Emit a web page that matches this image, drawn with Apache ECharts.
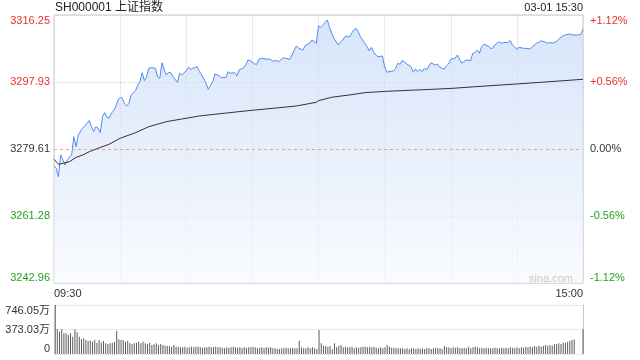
<!DOCTYPE html>
<html><head><meta charset="utf-8">
<script src="https://cdn.jsdelivr.net/npm/echarts@6/dist/echarts.min.js"></script>
<style>html,body{margin:0;padding:0;background:#fff}#c{width:640px;height:360px}</style>
</head><body><div id="c"></div>
<script>
const titleText = 'SH000001 上证指数';
const dateText = '03-01 15:30';
const watermark = 'sina.com';
const timeLabels = ['09:30', '15:00'];
const priceTicks = ['3242.96', '3261.28', '3279.61', '3297.93', '3316.25'];
const pctTicks = ['-1.12%', '-0.56%', '0.00%', '+0.56%', '+1.12%'];
const volTicks = ['0', '373.03万', '746.05万'];
const priceMin = 3242.96, priceMax = 3316.25, prevClose = 3279.61;
const volMax = 746.05;

const priceMinutes = [0,1,2,3,4,5,6,8,9,10,11,13,14,15,16,17,18,19,20,21,22,23,24,25,26,27,28,29,30,31,32,33,34,35,37,38,39,40,41,42,43,44,46,47,48,49,50,51,52,53,54,56,57,58,60,61,62,63,65,66,67,69,70,72,73,75,76,78,79,80,82,83,84,86,87,88,89,91,92,93,94,97,98,99,101,102,104,105,107,108,109,110,111,113,114,116,117,118,119,120,121,122,124,125,126,127,129,130,131,132,133,134,135,136,137,138,139,141,142,143,144,145,146,147,149,150,151,152,154,155,156,157,158,159,160,162,163,164,165,166,167,168,169,171,172,173,174,175,177,178,179,180,182,183,184,185,187,189,190,191,192,193,194,195,197,198,199,200,202,203,204,206,207,208,210,211,213,214,216,217,219,220,221,223,224,225,226,228,229,231,232,234,235,237,238,239,240];
const priceValues = [3274.96,3274.33,3272.04,3277.97,3276.60,3275.23,3276.60,3277.97,3283.00,3280.24,3283.44,3285.27,3285.90,3286.64,3287.35,3285.71,3284.34,3285.71,3285.27,3284.07,3288.44,3289.54,3288.28,3288.01,3289.37,3290.08,3291.18,3293.01,3293.75,3293.48,3291.92,3291.37,3292.11,3294.38,3295.55,3297.11,3298.02,3300.48,3298.29,3299.38,3301.68,3301.85,3301.68,3299.38,3298.95,3303.21,3301.22,3299.85,3300.59,3300.48,3299.38,3297.85,3300.31,3299.85,3301.02,3301.95,3301.41,3301.68,3302.12,3300.75,3299.85,3297.58,3295.94,3298.02,3300.12,3299.58,3299.11,3299.20,3300.75,3300.31,3300.48,3299.58,3301.22,3301.85,3302.58,3303.95,3303.77,3302.86,3302.77,3304.14,3304.42,3304.14,3304.22,3303.68,3303.77,3303.49,3304.58,3304.42,3304.14,3305.32,3306.69,3307.78,3307.14,3306.69,3307.92,3308.60,3309.42,3309.01,3308.46,3313.25,3312.89,3313.52,3314.89,3312.89,3311.25,3309.88,3308.05,3308.87,3309.42,3310.32,3310.51,3310.15,3311.25,3312.15,3312.62,3311.69,3310.32,3308.52,3307.60,3306.50,3307.42,3306.22,3305.32,3304.85,3305.04,3302.12,3300.59,3300.75,3300.94,3301.68,3303.05,3302.77,3303.77,3303.49,3302.86,3302.12,3300.59,3301.49,3300.75,3301.41,3300.75,3301.68,3301.22,3303.21,3302.86,3302.58,3302.77,3301.95,3301.41,3302.31,3302.86,3304.14,3304.42,3305.32,3304.14,3303.05,3303.95,3303.77,3305.78,3305.96,3306.69,3305.78,3307.59,3308.24,3307.78,3307.14,3307.14,3308.05,3308.96,3308.52,3308.69,3308.79,3309.23,3308.05,3306.88,3307.42,3307.14,3307.14,3306.96,3307.60,3308.52,3308.79,3309.23,3308.79,3308.52,3308.79,3308.52,3308.96,3309.69,3310.60,3310.79,3311.06,3310.79,3310.79,3310.87,3310.90,3312.35];

const avgMinutes = [0,2,4,7,10,13,16,20,25,30,37,43,51,58,66,73,88,104,110,119,120,126,134,141,151,172,181,196,210,225,240];
const avgValues = [3276.79,3275.40,3275.70,3276.14,3277.30,3277.97,3278.87,3279.80,3280.90,3282.54,3284.07,3285.71,3287.08,3287.81,3288.64,3289.10,3290.08,3291.01,3291.37,3292.38,3292.82,3293.75,3294.38,3295.01,3295.39,3295.94,3296.21,3296.84,3297.39,3298.02,3298.67];

// volume per minute (万), minutes 0..240
const volumes = [
746,376,340,376,315,315,289,315,264,376,
330,264,224,239,213,203,203,188,213,173,
213,176,198,163,152,163,173,183,355,224,
213,213,188,203,163,152,163,173,188,163,
188,163,152,173,137,147,163,137,152,137,
127,122,122,112,137,112,112,102,102,112,
97,102,112,102,112,112,102,97,102,102,
112,102,102,112,102,102,97,87,102,97,
102,112,102,97,102,87,102,97,102,102,
112,102,87,97,102,87,102,97,102,87,
87,78,78,87,87,97,87,87,97,87,
87,203,102,87,87,102,87,102,87,78,
364,
163,127,122,112,122,72,163,102,122,137,
102,112,102,102,112,87,102,97,102,112,
112,102,112,102,112,97,87,102,87,102,
137,112,97,97,87,87,87,87,78,87,
72,87,87,78,87,78,87,78,87,87,
78,87,97,87,87,78,122,102,102,87,
102,97,102,87,87,97,87,112,87,102,
112,102,87,97,87,97,87,87,87,97,
87,87,97,87,97,87,102,97,87,102,
87,102,97,112,102,112,102,122,112,127,
112,122,137,122,137,127,147,152,163,152,
173,173,188,203,213,220,
0,0,0,
376];

const FONT = 'Arial, "Liberation Sans", "Noto Sans CJK SC", sans-serif';
const RED = '#e8302a', GREEN = '#1f9f1f', DARK = '#333';
const GRIDC = '#d4d4d4', BORDER = '#c8c8c8';
const pInt = (priceMax - priceMin) / 4;
const pIdx = v => Math.round((v - priceMin) / pInt);
const pColor = i => i > 2 ? RED : (i < 2 ? GREEN : DARK);
const vInt = volMax / 2;

const chart = echarts.init(document.getElementById('c'), null, {renderer: 'canvas'});
chart.setOption({
  animation: false,
  backgroundColor: '#fff',
  textStyle: {fontFamily: FONT},
  grid: [
    {left: 54, top: 15, width: 529, height: 268, show: true, borderColor: BORDER, borderWidth: 1, backgroundColor: 'transparent'},
    {left: 54, top: 305, width: 529, height: 49}
  ],
  xAxis: [
    {gridIndex: 0, type: 'value', min: 0, max: 240, interval: 30,
     axisLine: {show: false}, axisTick: {show: false},
     splitLine: {show: true, lineStyle: {color: GRIDC, type: 'dotted'}},
     axisLabel: {margin: 5, fontSize: 11, color: DARK, fontFamily: FONT,
       alignMinLabel: 'left', alignMaxLabel: 'right',
       formatter: v => v === 0 ? timeLabels[0] : (v === 240 ? timeLabels[1] : '')}},
    {gridIndex: 1, type: 'value', min: -0.5, max: 240,
     axisLine: {show: false}, axisTick: {show: false}, axisLabel: {show: false}, splitLine: {show: false}}
  ],
  yAxis: [
    {gridIndex: 0, type: 'value', min: priceMin, max: priceMax, interval: pInt,
     axisLine: {show: false}, axisTick: {show: false},
     axisLabel: {margin: 4, fontSize: 11, fontFamily: FONT,
       formatter: v => priceTicks[pIdx(v)], color: v => pColor(pIdx(v)),
       verticalAlignMinLabel: 'bottom', verticalAlignMaxLabel: 'top'},
     splitLine: {show: true, lineStyle: {color: [GRIDC, GRIDC, 'rgba(0,0,0,0)', GRIDC, GRIDC], type: 'dotted'}}},
    {gridIndex: 0, type: 'value', position: 'right', min: priceMin, max: priceMax, interval: pInt,
     axisLine: {show: false}, axisTick: {show: false}, splitLine: {show: false},
     axisLabel: {margin: 7, fontSize: 11, fontFamily: FONT,
       formatter: v => pctTicks[pIdx(v)], color: v => pColor(pIdx(v)),
       verticalAlignMinLabel: 'bottom', verticalAlignMaxLabel: 'top'}},
    {gridIndex: 1, type: 'value', min: 0, max: volMax, interval: vInt,
     axisLine: {show: true, lineStyle: {color: BORDER}}, axisTick: {show: false},
     axisLabel: {margin: 4, fontSize: 11, color: DARK, fontFamily: FONT,
       formatter: v => volTicks[Math.round(v / vInt)],
       verticalAlignMinLabel: 'bottom', verticalAlignMaxLabel: 'top'},
     splitLine: {show: true, lineStyle: {color: GRIDC, type: 'dotted'}}},
    {gridIndex: 1, type: 'value', position: 'right', min: 0, max: volMax,
     axisLine: {show: true, lineStyle: {color: BORDER}}, axisTick: {show: false},
     axisLabel: {show: false}, splitLine: {show: false}}
  ],
  series: [
    {type: 'line', xAxisIndex: 0, yAxisIndex: 0, symbol: 'none', z: 3,
     data: priceMinutes.map((m, k) => [m, priceValues[k]]),
     lineStyle: {color: '#558bf0', width: 1},
     areaStyle: {color: {type: 'linear', x: 0, y: 0, x2: 0, y2: 1,
       colorStops: [{offset: 0, color: '#c6d9f7'}, {offset: 1, color: '#f6f9fe'}]}},
     markLine: {silent: true, symbol: ['none', 'none'], label: {show: false},
       lineStyle: {color: '#f0a27e', type: [3, 3], width: 1},
       data: [{yAxis: prevClose}]}},
    {type: 'line', xAxisIndex: 0, yAxisIndex: 0, symbol: 'none', z: 4,
     data: avgMinutes.map((m, k) => [m, avgValues[k]]),
     lineStyle: {color: '#333', width: 1}},
    {type: 'bar', xAxisIndex: 1, yAxisIndex: 2, barWidth: 1,
     data: volumes.map((v, i) => [i, v]),
     itemStyle: {color: '#5c5c5c'}}
  ],
  graphic: [
    {type: 'text', x: 55, y: 8, style: {text: titleText, fill: '#222', fontSize: 12, fontFamily: FONT, align: 'left', verticalAlign: 'middle'}},
    {type: 'text', x: 583, y: 8, style: {text: dateText, fill: '#222', fontSize: 11, fontFamily: FONT, align: 'right', verticalAlign: 'middle'}},
    {type: 'text', x: 573, y: 279, z: 10, style: {text: watermark, fill: '#c8c8c8', fontSize: 11, fontFamily: FONT, align: 'right', verticalAlign: 'middle'}}
  ]
});
</script></body></html>
